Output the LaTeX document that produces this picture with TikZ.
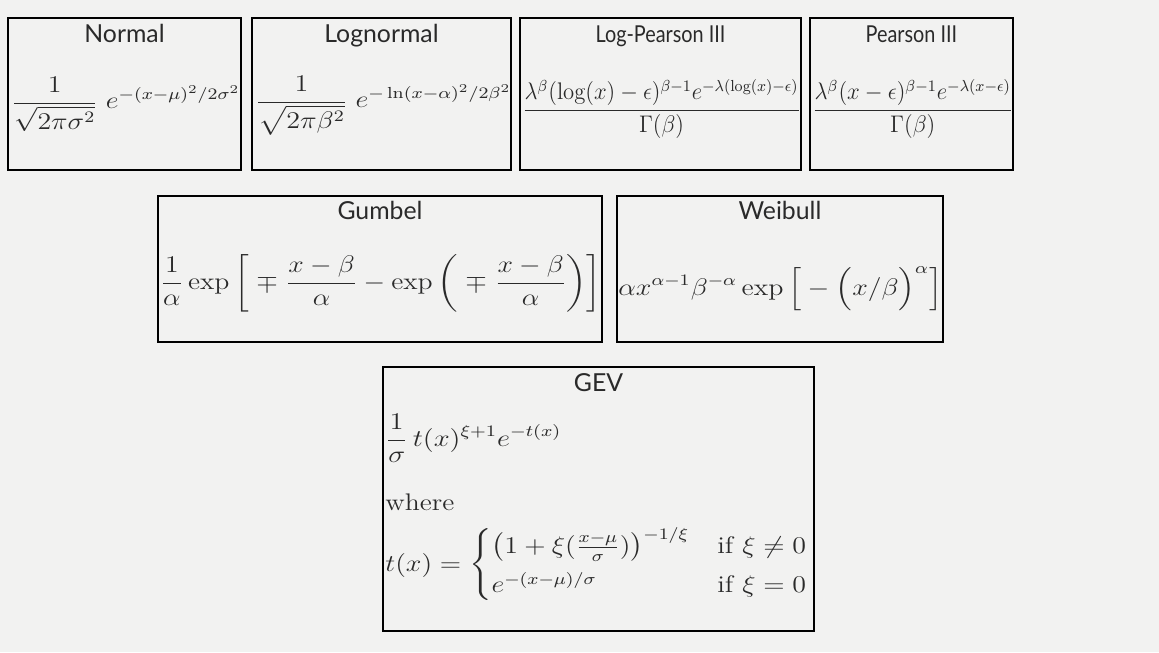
\documentclass[tikz,border=0pt]{standalone}
\usepackage{amsmath, amssymb}
\usepackage{graphicx}
\usepackage{fontspec}
\newfontfamily\titlefont{Lato}
\usepackage{xcolor}
\usepackage{tikz}
\usetikzlibrary{positioning}
\usetikzlibrary{calc}

\definecolor{pagebg}{HTML}{F2F2F1}
\definecolor{inkgray}{HTML}{2A2A2A}

% horizontal stretch of a formula, baseline kept
\newcommand{\stretchx}[2]{\scalebox{#1}[1]{#2}}

\tikzset{
    distbox/.style={draw=black, line width=0.75pt, inner sep=0pt},
    disttitle/.style={anchor=base, inner sep=0pt, text=inkgray, font=\titlefont\fontsize{12.4}{14}\selectfont},
    distpdf/.style={anchor=base west, inner sep=0pt, text=inkgray, font=\fontsize{12}{14}\selectfont},
}

\begin{document}
\begin{tikzpicture}[x=0.5pt, y=-0.5pt]
    \fill[pagebg] (0,0) rectangle (1159,652);
    \useasboundingbox (0,0) rectangle (1159,652);

    % the boxes
    \node[distbox, minimum width=116.5pt, minimum height=76pt] (normal) at (124.5,94) {};
    \node[distbox, minimum width=129.5pt, minimum height=76pt] (lognormal) at (381.5,94) {};
    \node[distbox, minimum width=140.5pt, minimum height=76pt] (logpearson) at (660.5,94) {};
    \node[distbox, minimum width=101.5pt, minimum height=76pt] (pearson) at (911.5,94) {};
    \node[distbox, minimum width=222pt, minimum height=73pt] (gumbel) at (380,269) {};
    \node[distbox, minimum width=163pt, minimum height=73pt] (weibull) at (780,269) {};
    \node[distbox, minimum width=215.5pt, minimum height=132pt] (gev) at (598.5,499) {};

    % titles
    \node[disttitle] (normal-title) at ([yshift=-12.5pt]normal.north) {Normal};
    \node[disttitle] (lognormal-title) at ([yshift=-12.5pt]lognormal.north) {Lognormal};
    \node[disttitle] (logpearson-title) at ([yshift=-12.5pt]logpearson.north) {\scalebox{0.8}[0.94]{Log-Pearson III}};
    \node[disttitle] (pearson-title) at ([yshift=-12.5pt]pearson.north) {\scalebox{0.8}[0.94]{Pearson III}};
    \node[disttitle] (gumbel-title) at ([yshift=-12pt]gumbel.north) {Gumbel};
    \node[disttitle] (weibull-title) at ([yshift=-12pt]weibull.north) {Weibull};
    \node[disttitle] (gev-title) at ([yshift=-12.5pt]gev.north) {GEV};

    % densities
    \node[distpdf] (normal-pdf) at (11,109)
        {\stretchx{1.166}{$\displaystyle \frac{1}{\sqrt{2\pi\sigma^2}}\; e^{-(x-\mu)^2/2\sigma^2}$}};
    \node[distpdf] (lognormal-pdf) at (255,108)
        {\stretchx{1.172}{$\displaystyle \frac{1}{\sqrt{2\pi\beta^2}}\; e^{-\ln(x-\alpha)^2/2\beta^2}$}};
    \node[distpdf] (logpearson-pdf) at (522,116)
        {\stretchx{0.945}{$\displaystyle \frac{\lambda^\beta(\log(x)-\epsilon)^{\beta-1}e^{-\lambda(\log(x)-\epsilon)}}{\Gamma(\beta)}$}};
    \node[distpdf] (pearson-pdf) at (812,116)
        {\stretchx{0.95}{$\displaystyle \frac{\lambda^\beta(x-\epsilon)^{\beta-1}e^{-\lambda(x-\epsilon)}}{\Gamma(\beta)}$}};
    \node[distpdf] (gumbel-pdf) at (160,289)
        {\stretchx{1.155}{$\displaystyle \frac{1}{\alpha}\exp\left[\;\mp\;\frac{x-\beta}{\alpha}-\exp\left(\;\mp\;\frac{x-\beta}{\alpha}\right)\right]$}};
    \node[distpdf] (weibull-pdf) at (618,295)
        {\stretchx{1.165}{$\displaystyle \alpha x^{\alpha-1}\beta^{-\alpha}\exp\Big[-\Big(x/\beta\Big)^{\alpha}\Big]$}};

    \node[distpdf] (gev-pdf) at (385,446)
        {\stretchx{1.19}{$\displaystyle \frac{1}{\sigma}\,t(x)^{\xi+1}e^{-t(x)}$}};
    \node[distpdf] (gev-where) at (385,510) {\stretchx{1.15}{where}};
    \node[distpdf] (gev-t) at (385,571)
        {\stretchx{1.166}{$\displaystyle t(x)=\begin{cases}\big(1+\xi(\frac{x-\mu}{\sigma})\big)^{-1/\xi} & \text{if } \xi\neq0\\[3pt] e^{-(x-\mu)/\sigma} & \text{if } \xi=0\end{cases}$}};
\end{tikzpicture}
\end{document}
